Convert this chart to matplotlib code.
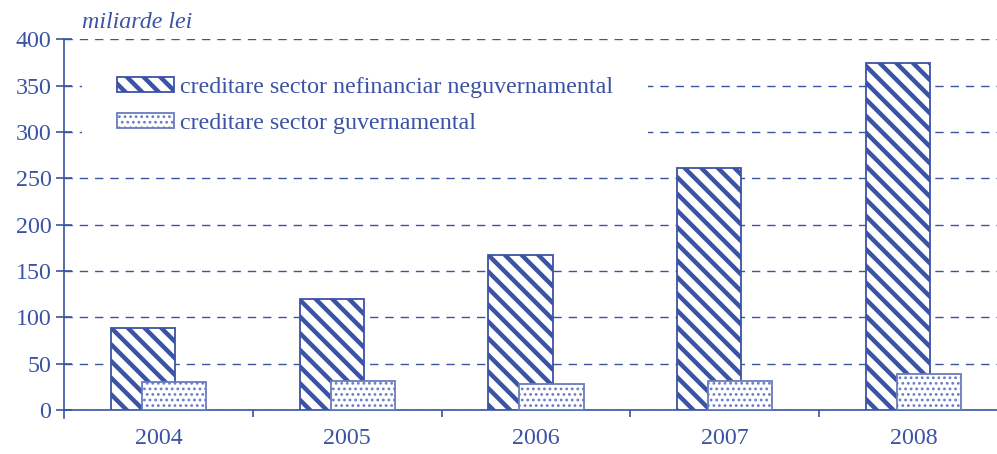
import matplotlib
matplotlib.use("Agg")
import matplotlib.pyplot as plt
from matplotlib.patches import Rectangle
import numpy as np

years = ["2004", "2005", "2006", "2007", "2008"]
nefinanciar = [88, 120, 167, 261, 374]
guvernamental = [30, 31, 28, 31, 39]
label_nef = "creditare sector nefinanciar neguvernamental"
label_guv = "creditare sector guvernamental"
unit_label = "miliarde lei"

BLUE = "#3B53A4"
DOTBLUE = "#7F8FC8"
plt.rcParams["font.family"] = ["Liberation Serif", "DejaVu Serif"]
FS = 17.3

fig = plt.figure(figsize=(9.97, 4.54), dpi=100)
ax = fig.add_axes([0.0645, 0.0969, 0.9355, 0.8165])

x = np.arange(len(years))
w = 0.34
off = 0.082
HLW1, HLW2 = 3.2, 1.2


def set_hlw(p, v):
    if hasattr(p, "set_hatch_linewidth"):
        p.set_hatch_linewidth(v)
    else:
        p._hatch_linewidth = v


with plt.rc_context({"hatch.linewidth": HLW1, "hatch.color": BLUE}):
    b1 = ax.bar(x - off, nefinanciar, width=w, facecolor="white", edgecolor=BLUE,
                hatch="\\\\", linewidth=1.3, zorder=3, label=label_nef)
with plt.rc_context({"hatch.linewidth": HLW2, "hatch.color": DOTBLUE}):
    b2 = ax.bar(x + off, guvernamental, width=w, facecolor="white", edgecolor="#6A7CC0",
                hatch="...", linewidth=1.3, zorder=4, label=label_guv)
for p in b1:
    set_hlw(p, HLW1)
for p in b2:
    set_hlw(p, HLW2)

ax.set_yticks(np.arange(0, 401, 50))
ax.yaxis.grid(True, color=BLUE, linestyle=(0, (6, 5)), linewidth=1.0, zorder=0)
ax.set_axisbelow(True)

ax.set_xticks(x)
ax.set_xticklabels(years)
ax.set_xticks(np.arange(0.5, len(years) - 0.5, 1.0), minor=True)
ax.set_ylim(0, 400)
ax.set_xlim(-0.5, -0.5 + (997 - 64.3) / 188.67)

ax.tick_params(axis="x", which="major", length=0, pad=13, labelsize=FS, labelcolor=BLUE)
ax.tick_params(axis="x", which="minor", length=5, width=1.2, direction="out", color=BLUE)
ax.tick_params(axis="y", which="major", length=11.5, width=1.2, direction="inout",
               color=BLUE, labelsize=FS, labelcolor=BLUE, pad=3.5)

for s in ["top", "right"]:
    ax.spines[s].set_visible(False)
for s in ["left", "bottom"]:
    ax.spines[s].set_color(BLUE)
    ax.spines[s].set_linewidth(1.2)
ax.spines["left"].set_bounds(-9, 400)

# white panel behind legend (hides gridlines there)
ax.add_patch(Rectangle((0.019, 0.70), 0.607, 0.255, transform=ax.transAxes,
                       facecolor="white", edgecolor="none", zorder=2))

ax.text(82 / 997, 1 - 28 / 454, unit_label, transform=fig.transFigure, fontsize=FS,
        style="italic", color=BLUE, ha="left", va="baseline")

leg = ax.legend(loc="upper left", bbox_to_anchor=(0.0566, 0.899), fontsize=FS,
                frameon=False, borderpad=0, borderaxespad=0,
                handlelength=2.35, handleheight=0.6, handletextpad=0.25,
                labelspacing=0.64)
leg.set_zorder(5)
for t in leg.get_texts():
    t.set_color(BLUE)
hs = leg.legend_handles
set_hlw(hs[0], HLW1)
set_hlw(hs[1], HLW2)

fig.savefig("out.png", dpi=100)
